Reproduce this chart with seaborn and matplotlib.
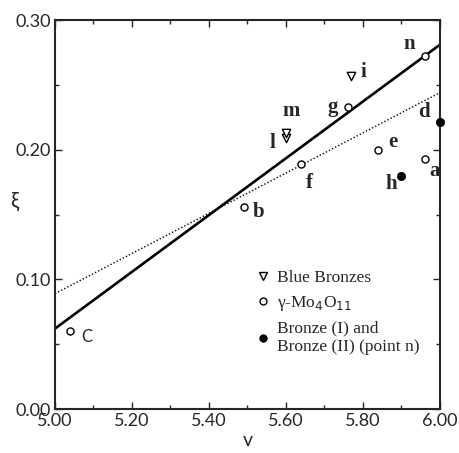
import matplotlib
matplotlib.use("Agg")
import matplotlib.pyplot as plt
import seaborn as sns
import pandas as pd
from matplotlib.ticker import MultipleLocator, FormatStrFormatter
from matplotlib.lines import Line2D

# blue bronzes (triangles)
bb_names = ["i", "l", "m"]
bb_v = [5.77, 5.60, 5.60]
bb_xi = [0.257, 0.209, 0.213]

# gamma-Mo4O11 (open circles), n is bronze (II)
mo_names = ["a", "b", "C", "e", "f", "g", "n"]
mo_v = [5.96, 5.49, 5.04, 5.84, 5.64, 5.76, 5.96]
mo_xi = [0.193, 0.156, 0.060, 0.200, 0.189, 0.233, 0.272]

# bronze (I) (filled)
br_names = ["d", "h"]
br_v = [6.00, 5.90]
br_xi = [0.221, 0.180]

# fitted lines (end points)
line_v = [5.00, 6.00]
solid_xi = [0.062, 0.281]
dotted_xi = [0.089, 0.244]

# label offsets in pixels
offsets = {"a": (10, -12), "b": (15, -5), "C": (16, -6), "d": (-16, 10),
           "e": (14, 8), "f": (8, -19), "g": (-15, 0), "h": (-10, -8),
           "i": (12, 4), "l": (-14, -5), "m": (5, 22), "n": (-15, 12)}

sns.set_style("ticks")
plt.rcParams["font.family"] = ["Liberation Serif", "DejaVu Serif"]

fig = plt.figure(figsize=(4.59, 4.53), dpi=100)
ax = fig.add_axes([0.1198, 0.0971, 0.8388, 0.8587])

lines = pd.DataFrame({"v": line_v, "solid": solid_xi, "dotted": dotted_xi})
sns.lineplot(data=lines, x="v", y="solid", color="black", lw=1.9, ax=ax)
sns.lineplot(data=lines, x="v", y="dotted", color="black", lw=1.0,
             linestyle=(0, (1, 1.5)), ax=ax)

sns.scatterplot(x=bb_v, y=bb_xi, marker="v", s=36, facecolor="white",
                edgecolor="black", linewidth=1.0, ax=ax, zorder=3)
sns.scatterplot(x=mo_v, y=mo_xi, marker="o", s=26, facecolor="white",
                edgecolor="black", linewidth=1.0, ax=ax, zorder=3)
sns.scatterplot(x=br_v, y=br_xi, marker="o", s=36, color="black",
                edgecolor="black", ax=ax, zorder=3, clip_on=False)

for names, vs, xs in [(bb_names, bb_v, bb_xi), (mo_names, mo_v, mo_xi),
                      (br_names, br_v, br_xi)]:
    for nm, v, x in zip(names, vs, xs):
        dx, dy = offsets[nm]
        fam = ["Lato"] if nm == "C" else ["Liberation Serif"]
        ax.annotate(nm, (v, x), xytext=(dx, dy), textcoords="offset pixels",
                    ha="center", va="center", fontsize=15 if nm != "C" else 12,
                    family=fam, fontweight="bold" if nm != "C" else "normal")

ax.set_xlim(5.0, 6.0)
ax.set_ylim(0.0, 0.30)
ax.xaxis.set_major_locator(MultipleLocator(0.2))
ax.xaxis.set_minor_locator(MultipleLocator(0.1))
ax.yaxis.set_major_locator(MultipleLocator(0.1))
ax.yaxis.set_minor_locator(MultipleLocator(0.05))
ax.xaxis.set_major_formatter(FormatStrFormatter("%.2f"))
ax.yaxis.set_major_formatter(FormatStrFormatter("%.2f"))
ax.tick_params(which="both", direction="in", top=True, right=True,
               labelsize=13, width=1.0, pad=3)
ax.tick_params(which="major", length=5)
ax.tick_params(which="minor", length=3)
for lab in ax.get_xticklabels() + ax.get_yticklabels():
    lab.set_family("Lato")
for sp in ax.spines.values():
    sp.set_linewidth(1.5)
    sp.set_visible(True)

ax.set_xlabel("v", family="Lato", fontsize=14, labelpad=2)
ax.set_ylabel("ξ", family="Lato", fontsize=15, rotation=0, labelpad=12)
ax.yaxis.set_label_coords(-0.105, 0.51)

handles = [
    Line2D([], [], marker="v", ls="", mfc="white", mec="black", ms=6),
    Line2D([], [], marker="o", ls="", mfc="white", mec="black", ms=5),
    Line2D([], [], marker="o", ls="", mfc="black", mec="black", ms=5),
]
labels = ["Blue Bronzes", "γ-Mo$_4$O$_{11}$", "Bronze (I) and\nBronze (II) (point n)"]
leg = ax.legend(handles, labels, frameon=False, loc="upper left",
                bbox_to_anchor=(0.51, 0.375), handlelength=0.6, handletextpad=0.5,
                borderaxespad=0, labelspacing=0.45, fontsize=12.5)

fig.savefig("out.png", dpi=100)
